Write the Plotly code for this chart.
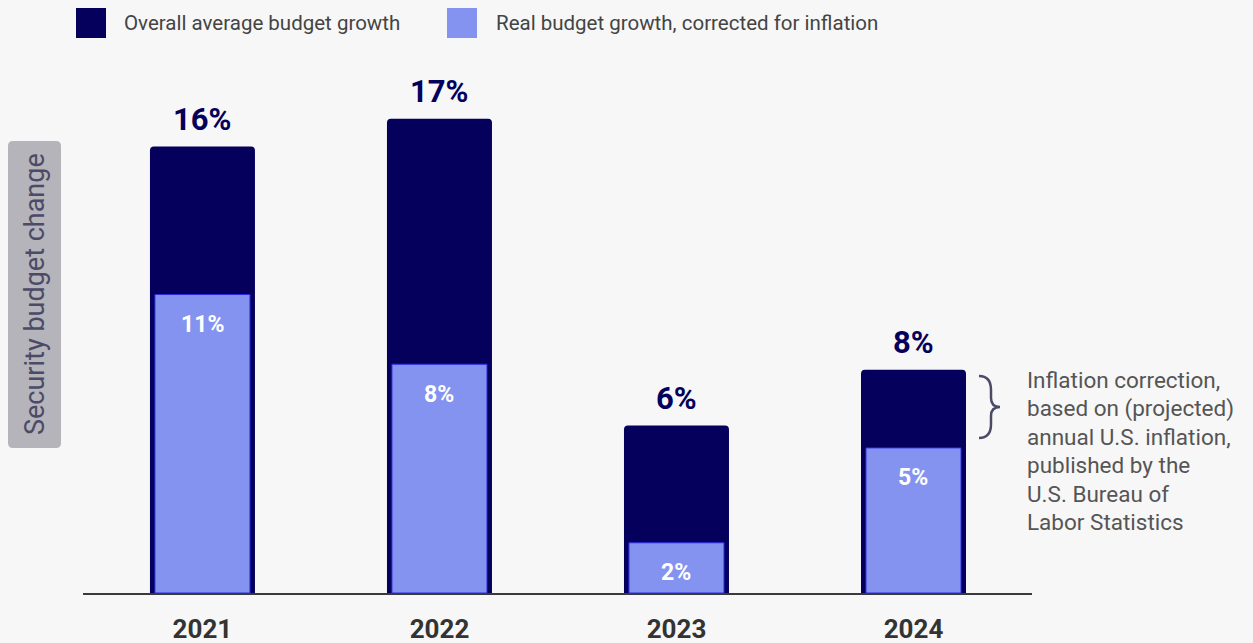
import plotly.graph_objects as go

years = ["2021", "2022", "2023", "2024"]
overall = [16, 17, 6, 8]
real = [10.7, 8.2, 1.8, 5.2]
overall_labels = ["16%", "17%", "6%", "8%"]
real_labels = ["11%", "8%", "2%", "5%"]
legend_names = ["Overall average budget growth", "Real budget growth, corrected for inflation"]
y_title = "Security budget change"
note_lines = ["Inflation correction,", "based on (projected)", "annual U.S. inflation,",
              "published by the", "U.S. Bureau of", "Labor Statistics"]

DARK = "#05005c"
LIGHT = "#8593f0"
BG = "#f7f7f7"
FONT = "Roboto"

W, H = 1253, 643
L, R = 83, 1032
T, B = 60, 593
PW, PH = R - L, B - T


def px(x):
    return (x - L) / PW


def py(y):
    return (B - y) / PH


fig = go.Figure()
fig.add_trace(go.Bar(x=years, y=overall, width=0.443, marker=dict(color=DARK, cornerradius=4,
                     line=dict(width=0)), name=legend_names[0], hoverinfo="skip"))
fig.add_trace(go.Bar(x=years, y=real, width=0.401, marker=dict(color=LIGHT,
                     line=dict(width=1, color="#2c2ce0")), name=legend_names[1], hoverinfo="skip"))

ann = []
for i, (v, t) in enumerate(zip(overall, overall_labels)):
    ann.append(dict(xref="x", yref="y", x=i, y=v, text=f"<b>{t}</b>", showarrow=False, yanchor="middle",
                    yshift=27, font=dict(family=FONT, size=31, color=DARK)))
for i, (v, t) in enumerate(zip(real, real_labels)):
    ann.append(dict(xref="x", yref="y", x=i, y=v, text=f"<b>{t}</b>", showarrow=False, yanchor="middle",
                    yshift=-30, font=dict(family=FONT, size=23, color="white")))

# legend
shapes = []
leg_sq = [76, 447]
leg_tx = [122, 494]
for i in range(2):
    shapes.append(dict(type="rect", xref="paper", yref="paper", x0=px(leg_sq[i]), x1=px(leg_sq[i] + 30),
                       y0=py(38), y1=py(8), fillcolor=[DARK, LIGHT][i], line=dict(width=0)))
    ann.append(dict(xref="paper", yref="paper", x=px(leg_tx[i]), y=py(23), xanchor="left", yanchor="middle",
                    text=legend_names[i], showarrow=False,
                    font=dict(family=FONT, size=20.5, color="#444444")))


def rrect(x0, y0, x1, y1, r):
    ax0, ax1 = px(x0), px(x1)
    ay0, ay1 = py(y0), py(y1)
    rx, ry = r / PW, r / PH
    return (f"M {ax0+rx},{ay0} L {ax1-rx},{ay0} Q {ax1},{ay0} {ax1},{ay0-ry} "
            f"L {ax1},{ay1+ry} Q {ax1},{ay1} {ax1-rx},{ay1} L {ax0+rx},{ay1} "
            f"Q {ax0},{ay1} {ax0},{ay1+ry} L {ax0},{ay0-ry} Q {ax0},{ay0} {ax0+rx},{ay0} Z")


shapes.append(dict(type="path", xref="paper", yref="paper", path=rrect(8, 141, 61, 448, 5),
                   fillcolor="#b5b4ba", line=dict(width=0), layer="below"))
ann.append(dict(xref="paper", yref="paper", x=px(35), y=py(294), text=y_title, textangle=-90,
                showarrow=False, xanchor="center", yanchor="middle",
                font=dict(family=FONT, size=27, color="#4b4b68")))

# brace
pts = [(979, 376), (991, 376), (991, 390), (991, 398), (991, 407), (1000, 407), (991, 407), (991, 416),
       (991, 424), (991, 438), (979, 438)]
P = [(px(a), py(b)) for a, b in pts]
bp = (f"M {P[0][0]},{P[0][1]} Q {P[1][0]},{P[1][1]} {P[2][0]},{P[2][1]} L {P[3][0]},{P[3][1]} "
      f"Q {P[4][0]},{P[4][1]} {P[5][0]},{P[5][1]} Q {P[6][0]},{P[6][1]} {P[7][0]},{P[7][1]} "
      f"L {P[8][0]},{P[8][1]} Q {P[9][0]},{P[9][1]} {P[10][0]},{P[10][1]}")
shapes.append(dict(type="path", xref="paper", yref="paper", path=bp, line=dict(color="#4b4b68", width=2.5)))

for i, line in enumerate(note_lines):
    ann.append(dict(xref="paper", yref="paper", x=px(1025), y=py(380 + i * 28.4), text=line,
                    showarrow=False, xanchor="left", yanchor="middle",
                    font=dict(family=FONT, size=22.5, color="#555555")))

fig.update_layout(
    width=W, height=H,
    margin=dict(l=L, r=W - R, t=T, b=H - B, pad=0, autoexpand=False),
    paper_bgcolor=BG, plot_bgcolor=BG,
    barmode="overlay", showlegend=False,
    annotations=ann, shapes=shapes,
    xaxis=dict(type="category", range=[-0.504, 3.5], showline=True, linecolor="#3a3a3a", linewidth=2,
               showgrid=False, zeroline=False, ticks="", ticklabelstandoff=12, automargin=False,
               tickfont=dict(family=FONT, size=26, color="#333333", weight="bold")),
    yaxis=dict(range=[0, PH / 27.9], showgrid=False, zeroline=False, showticklabels=False, ticks="",
               automargin=False),
)

fig.write_html("out.html", config={"displayModeBar": False},
               post_script="document.body.style.margin='0';document.body.style.background='#f7f7f7';")
